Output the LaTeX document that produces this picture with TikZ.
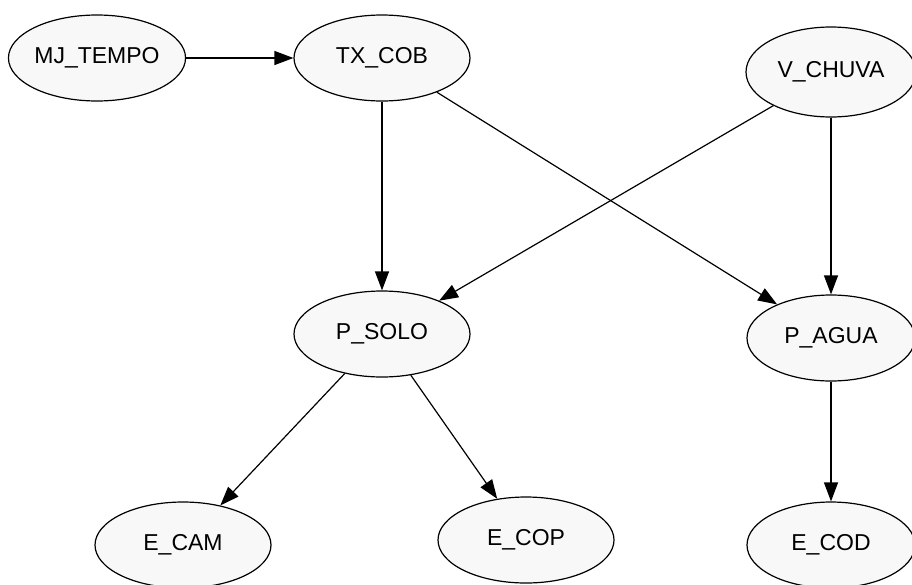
\documentclass[tikz,border=0pt]{standalone}
\usepackage{fontspec}
\setmainfont{Liberation Sans}
\usetikzlibrary{shapes.geometric,arrows.meta}
\definecolor{nodefill}{RGB}{248,248,248}
\begin{document}
\begin{tikzpicture}[x=1pt,y=-1pt,
  bnode/.style={ellipse,draw=black,line width=1.2pt,fill=nodefill,
    minimum width=176pt,minimum height=86pt,inner sep=0pt,
    font=\fontsize{23}{23}\selectfont},
  edge/.style={draw=black,line width=1.2pt,-{Triangle[length=19pt,width=14pt]}}]
\useasboundingbox (0,0) rectangle (912,584);
\node[bnode,minimum width=174pt] (mj) at (97,58) {MJ\_TEMPO};
\node[bnode] (tx) at (382,58) {TX\_COB};
\node[bnode,minimum width=170pt,minimum height=90pt] (vc) at (831,72) {V\_CHUVA};
\node[bnode] (ps) at (382,334) {P\_SOLO};
\node[bnode,minimum width=168pt] (pa) at (831,338) {P\_AGUA};
\node[bnode] (ecam) at (183,545) {E\_CAM};
\node[bnode] (ecop) at (526,540) {E\_COP};
\node[bnode,minimum width=168pt] (ecod) at (831,545) {E\_COD};
\draw[edge] (mj) -- (tx);
\draw[edge] (tx) -- (ps);
\draw[edge] (tx) -- (pa);
\draw[edge] (vc) -- (ps);
\draw[edge] (vc) -- (pa);
\draw[edge] (ps) -- (ecam);
\draw[edge] (ps) -- (ecop);
\draw[edge] (pa) -- (ecod);
\end{tikzpicture}
\end{document}
